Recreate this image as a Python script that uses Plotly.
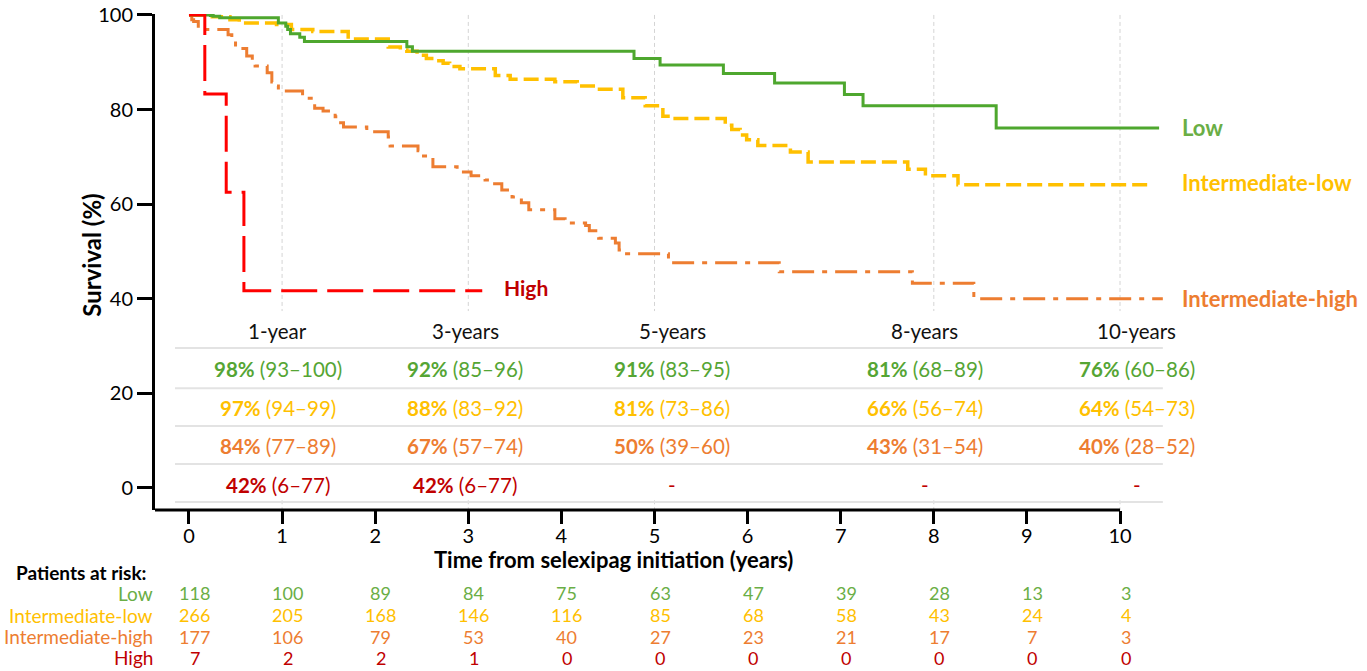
import plotly.graph_objects as go

FONT = "Lato"

# ---- Kaplan-Meier step data (years, survival %) ----
low_t = [0, 0.23, 0.26, 0.33, 0.96, 1.04, 1.06, 1.09, 1.19, 1.24, 2.34, 2.40, 4.78, 5.06, 5.74, 6.29, 7.04, 7.24, 8.67, 10.42]
low_s = [100, 99.9, 99.7, 99.4, 98.3, 97.6, 96.9, 96.0, 95.3, 94.4, 93.3, 92.3, 90.8, 89.4, 87.6, 85.6, 83.2, 80.8, 76.1, 76.1]

il_t = [0, 0.25, 0.44, 0.54, 0.94, 1.10, 1.33, 1.71, 2.14, 2.27, 2.34, 2.45, 2.55, 2.64, 2.73, 2.80, 2.91,
        3.29, 3.45, 3.93, 4.17, 4.39, 4.66, 4.90, 5.09, 5.20, 5.76, 5.83, 5.92, 5.99, 6.11, 6.46, 6.65,
        7.72, 7.91, 8.26, 10.30]
il_s = [100, 99.6, 99.0, 98.3, 98.0, 96.9, 96.5, 94.9, 93.2, 92.6, 92.3, 91.5, 90.8, 90.3, 89.8, 89.1, 88.6,
        87.2, 86.4, 85.9, 85.0, 84.3, 82.5, 80.8, 78.6, 78.1, 76.7, 75.8, 74.6, 73.6, 72.4, 71.0, 68.9,
        67.4, 66.0, 64.1, 64.1]

ih_t = [0, 0.03, 0.05, 0.10, 0.42, 0.46, 0.50, 0.62, 0.68, 0.71, 0.84, 0.89, 0.93, 0.96,
        1.22, 1.35, 1.44, 1.57, 1.61, 1.66, 1.91, 2.14, 2.16, 2.46, 2.50, 2.62, 2.88,
        3.03, 3.18, 3.23, 3.36, 3.47, 3.57, 3.65, 3.93, 4.04, 4.26, 4.30, 4.40, 4.58, 4.62, 4.70,
        5.15, 6.34, 7.77, 8.43, 10.46]
ih_s = [100, 99.0, 98.6, 96.9, 95.8, 94.8, 92.9, 91.3, 90.2, 89.2, 87.8, 85.8, 85.0, 83.9,
        82.4, 80.3, 79.7, 78.5, 77.2, 76.3, 75.3, 74.2, 72.3, 71.3, 70.2, 67.9, 66.8,
        66.0, 65.1, 64.3, 63.0, 61.5, 60.3, 58.8, 56.9, 56.0, 55.5, 54.4, 52.8, 51.8, 50.3, 49.5,
        47.6, 45.7, 43.3, 40.0, 40.0]

high_t = [0, 0.17, 0.40, 0.59, 3.15]
high_s = [100, 83.3, 62.5, 41.7, 41.7]

# ---- survival estimates table ----
milestones = ["1-year", "3-years", "5-years", "8-years", "10-years"]
low_est = [98, 92, 91, 81, 76]
low_ci = ["93–100", "85–96", "83–95", "68–89", "60–86"]
il_est = [97, 88, 81, 66, 64]
il_ci = ["94–99", "83–92", "73–86", "56–74", "54–73"]
ih_est = [84, 67, 50, 43, 40]
ih_ci = ["77–89", "57–74", "39–60", "31–54", "28–52"]
high_est = [42, 42, None, None, None]
high_ci = ["6–77", "6–77", None, None, None]

# ---- numbers at risk ----
risk_times = list(range(0, 11))
risk_low = [118, 100, 89, 84, 75, 63, 47, 39, 28, 13, 3]
risk_il = [266, 205, 168, 146, 116, 85, 68, 58, 43, 24, 4]
risk_ih = [177, 106, 79, 53, 40, 27, 23, 21, 17, 7, 3]
risk_high = [7, 2, 2, 1, 0, 0, 0, 0, 0, 0, 0]

group_names = ["Low", "Intermediate-low", "Intermediate-high", "High"]

# colours
C_LOW_LINE, C_LOW_TXT = "#4EA72E", "#6AAE45"
C_IL = "#FFC000"
C_IH = "#ED7D31"
C_HIGH_LINE, C_HIGH_TXT = "#FF0000", "#C00000"

# layout geometry (data units)
X0, X1 = -0.365, 12.653
Y0, Y1 = -4.66, 100.2
col_x = [0.956, 2.965, 5.19, 7.905, 10.18]
header_y = 33.2
row_y = [25.2, 16.9, 8.9, 0.63]
rule_y = [29.6, 21.1, 13.1, 5.07, -2.96]
grid_x = [1, 3, 5, 8, 10]

fig = go.Figure()

curves = [
    (ih_t, ih_s, C_IH, "22px,8px,5px,8px", 3),
    (il_t, il_s, C_IL, "15px,6px", 3.5),
    (low_t, low_s, C_LOW_LINE, "solid", 3),
    (high_t, high_s, C_HIGH_LINE, "36px,10px", 3),
]
for t, s, col, dash, w in curves:
    fig.add_trace(go.Scatter(x=t, y=s, mode="lines", line=dict(color=col, width=w, dash=dash, shape="hv"),
                             hoverinfo="skip", showlegend=False))

shapes = []
# dashed verticals at milestone times, interrupted by the table
for gx in grid_x:
    for ya, yb in [(Y1 - 0.2, 37.4), (-2.6, Y0)]:
        shapes.append(dict(type="line", xref="x", yref="y", x0=gx, x1=gx, y0=ya, y1=yb,
                           line=dict(color="#d4d4d4", width=1, dash="4px,3px"), layer="below"))
# table rules
for ry in rule_y:
    shapes.append(dict(type="line", xref="x", yref="y", x0=-0.15, x1=10.46, y0=ry, y1=ry,
                       line=dict(color="#e3e3e3", width=2), layer="below"))
# x axis line, stopping at 10 years
shapes.append(dict(type="line", xref="x", yref="paper", x0=X0, x1=10, y0=0, y1=0,
                   line=dict(color="black", width=3)))

ann = []

def add(x, y, text, color="black", size=20, xanchor="center", xref="x", yref="y", **kw):
    ann.append(dict(x=x, y=y, xref=xref, yref=yref, text=text, showarrow=False, xanchor=xanchor,
                    yanchor="middle", font=dict(family=FONT, size=size, color=color), **kw))

# table
for cx, lab in zip(col_x, milestones):
    add(cx, header_y, lab, "#111111", 20.5)
table_rows = [(low_est, low_ci, "#55A534"), (il_est, il_ci, C_IL), (ih_est, ih_ci, C_IH), (high_est, high_ci, C_HIGH_TXT)]
for (est, ci, col), ry in zip(table_rows, row_y):
    for cx, e, c in zip(col_x, est, ci):
        txt = f"<b>{e}%</b> ({c})" if e is not None else "-"
        add(cx, ry, txt, col, 20.5)

# curve labels
add(10.645, 76.3, "<b>Low</b>", C_LOW_TXT, 22, "left")
add(10.645, 64.5, "<b>Intermediate-low</b>", C_IL, 22, "left")
add(10.645, 40.0, "<b>Intermediate-high</b>", C_IH, 22, "left")
add(3.36, 42.3, "<b>High</b>", C_HIGH_TXT, 21, "left")

# axis titles
add(4.565, -0.10, "<b>Time from selexipag initiation (years)</b>", "black", 22, yref="paper")
add(-0.052, 49.3, "<b>Survival (%)</b>", "black", 24, xref="paper", textangle=-90)

# numbers at risk
add(-0.1165, -0.125, "<b>Patients at risk:</b>", "black", 19, "left", xref="paper", yref="paper")
risk_rows = [(risk_low, C_LOW_TXT, -0.168), (risk_il, C_IL, -0.212), (risk_ih, C_IH, -0.256), (risk_high, C_HIGH_TXT, -0.298)]
for name, (vals, col, py) in zip(group_names, risk_rows):
    add(0.0, py, name, col, 19, "right", xref="paper", yref="paper")
    for t, v in zip(risk_times, vals):
        add(t + 0.06, py, str(v), col, 18, yref="paper")

fig.update_layout(
    width=1367, height=671,
    margin=dict(l=155, r=0, t=14, b=161),
    paper_bgcolor="white", plot_bgcolor="white",
    shapes=shapes, annotations=ann,
    font=dict(family=FONT, size=20, color="black"),
    xaxis=dict(range=[X0, X1], showgrid=False, zeroline=False, showline=False,
               tickmode="array", tickvals=list(range(0, 11)), ticks="outside", ticklen=13, tickwidth=3,
               tickcolor="black", ticklabelstandoff=-5,
               tickfont=dict(family=FONT, size=20, color="black")),
    yaxis=dict(range=[Y0, Y1], showgrid=False, zeroline=False, showline=True, linecolor="black", linewidth=3,
               tickmode="array", tickvals=[0, 20, 40, 60, 80, 100], ticks="outside", ticklen=15, tickwidth=3,
               tickcolor="black", tickfont=dict(family=FONT, size=20, color="black")),
)

fig.write_html("out.html")
